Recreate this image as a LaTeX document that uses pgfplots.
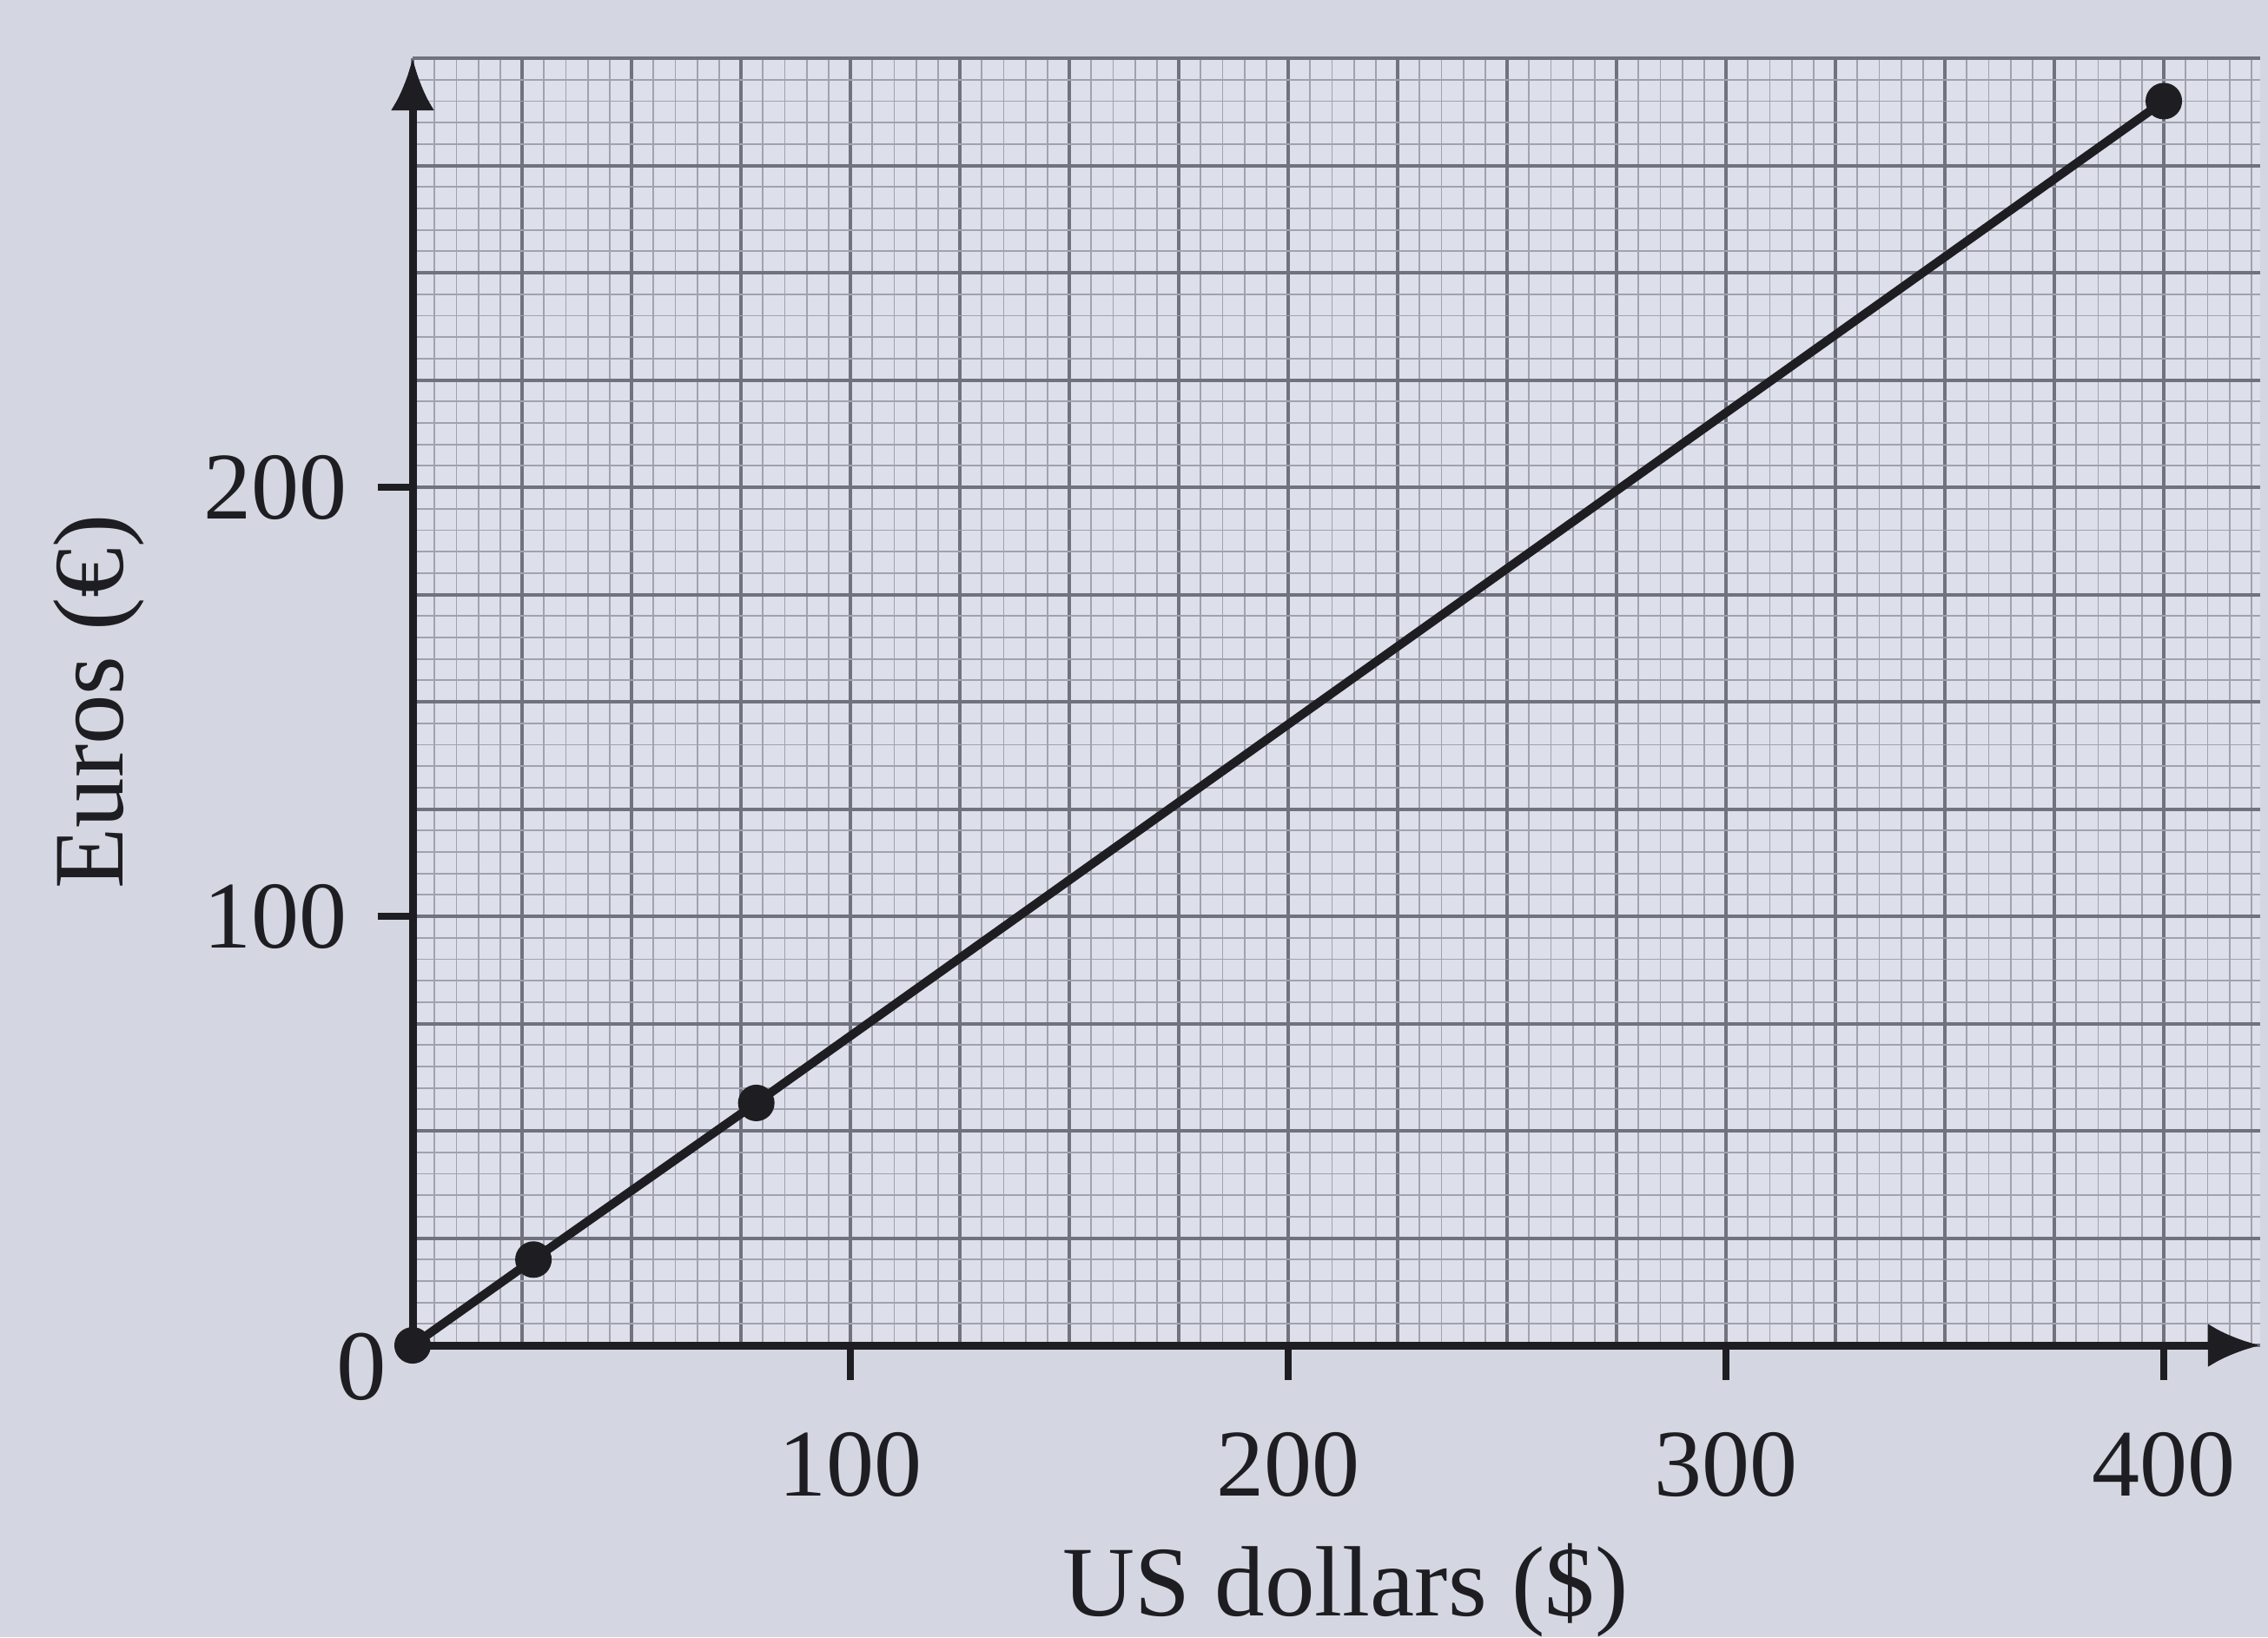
\documentclass[border=0pt]{standalone}
\usepackage{pgfplots}
\pgfplotsset{compat=1.18}
\usetikzlibrary{arrows.meta}
\usepackage{fontspec}
\setmainfont{Liberation Serif}
\definecolor{paper}{RGB}{212,215,226}
\definecolor{gridpaper}{RGB}{221,223,234}
\definecolor{gridmaj}{RGB}{112,114,126}
\definecolor{gridmin}{RGB}{160,162,174}
\definecolor{ink}{RGB}{30,30,34}

\begin{document}
\begin{tikzpicture}
\useasboundingbox[fill=paper] (-47.5pt,-33.6pt) rectangle (213.6pt,154.9pt);
\begin{axis}[
  anchor=origin, at={(0,0)},
  x=0.504pt, y=0.494pt,
  xmin=0, xmax=422, ymin=0, ymax=300,
  clip=false,
  axis background/.style={fill=gridpaper},
  axis x line=bottom, axis y line=left,
  axis line style={ink, line width=0.9pt},
  x axis line style={-{Latex[length=6pt,width=5pt]}},
  y axis line style={-{Latex[length=6pt,width=5pt]}},
  xtick={0,25,...,400}, ytick={0,25,...,300},
  minor xtick={0,5,...,420}, minor ytick={0,5,...,300},
  xticklabels={}, yticklabels={},
  major tick length=0pt, minor tick length=0pt,
  grid=both,
  major grid style={gridmaj, line width=0.4pt},
  minor grid style={gridmin, line width=0.18pt},
  tick align=outside,
  extra x ticks={100,200,300,400},
  extra x tick labels={100,200,300,400},
  extra y ticks={100,200},
  extra y tick labels={100,200},
  extra tick style={grid=none, major tick length=4pt,
    tick style={ink, line width=0.8pt}},
  ticklabel style={font=\fontsize{11}{13}\selectfont, text=ink},
  xticklabel style={yshift=-2.5pt},
  /pgf/number format/assume math mode=true,
  xlabel={US dollars (\$)},
  ylabel={Euros (€)},
  label style={font=\fontsize{11.5}{13}\selectfont, text=ink},
  xlabel style={at={(0.505,-0.19)}, anchor=center},
  ylabel style={at={(-0.170,0.5)}, anchor=center, rotate=0},
]
\addplot[ink, line width=1pt, mark=*, mark size=1.6pt,
  mark options={fill=ink, draw=ink}]
  coordinates {(0,0) (27.6,20) (78.5,56.5) (400,290)};
\node[font=\fontsize{11.5}{13}\selectfont, text=ink] at (axis cs:0,0)
  [xshift=-5.9pt, yshift=-2.5pt] {0};
\end{axis}
\end{tikzpicture}
\end{document}
